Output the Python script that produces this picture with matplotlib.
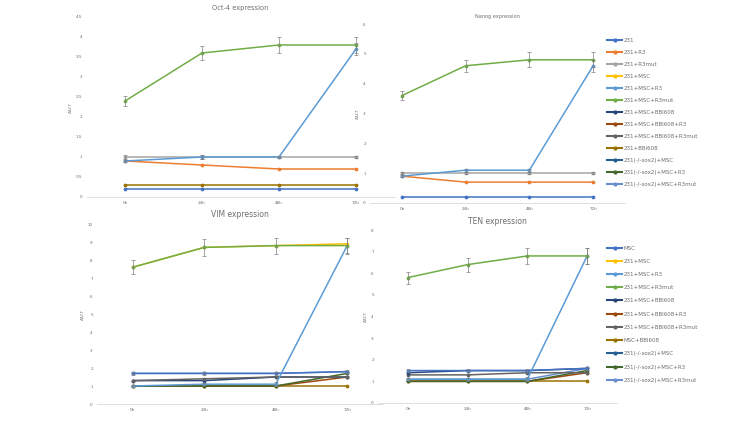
import matplotlib
matplotlib.use("Agg")
import matplotlib.pyplot as plt
from matplotlib.lines import Line2D

W, H = 750, 422
times = ["0h", "24h", "48h", "72h"]

# ---- series colours (Excel palette) ----
top_labels = ["231", "231+R3", "231+R3mut", "231+MSC", "231+MSC+R3", "231+MSC+R3mut",
              "231+MSC+BBI608", "231+MSC+BBI608+R3", "231+MSC+BBI608+R3mut", "231+BBI608",
              "231(-/-sox2)+MSC", "231(-/-sox2)+MSC+R3", "231(-/-sox2)+MSC+R3mut"]
top_colors = ["#4472C4", "#ED7D31", "#A5A5A5", "#FFC000", "#5B9BD5", "#70AD47",
              "#264478", "#9E480E", "#636363", "#997300", "#255E91", "#43682B", "#698ED0"]
bot_labels = ["MSC", "231+MSC", "231+MSC+R3", "231+MSC+R3mut", "231+MSC+BBI608",
              "231+MSC+BBI608+R3", "231+MSC+BBI608+R3mut", "MSC+BBI608",
              "231(-/-sox2)+MSC", "231(-/-sox2)+MSC+R3", "231(-/-sox2)+MSC+R3mut"]
bot_colors = ["#4472C4", "#FFC000", "#5B9BD5", "#70AD47", "#264478", "#9E480E",
              "#636363", "#997300", "#255E91", "#43682B", "#698ED0"]

# ---- Oct-4 ----
oct4_values = {
    "231": [0.2, 0.2, 0.2, 0.2],
    "231+BBI608": [0.3, 0.3, 0.3, 0.3],
    "231+R3": [0.9, 0.8, 0.7, 0.7],
    "231+R3mut": [1.0, 1.0, 1.0, 1.0],
    "231+MSC+R3": [0.9, 1.0, 1.0, 3.7],
    "231+MSC+R3mut": [2.4, 3.6, 3.8, 3.8],
}
oct4_err = {
    "231+R3mut": [0.05, 0.04, 0.03, 0.03],
    "231+MSC+R3": [0.03, 0.04, 0.03, 0.15],
    "231+MSC+R3mut": [0.13, 0.18, 0.2, 0.2],
}
# ---- Nanog ----
nanog_values = {
    "231": [0.2, 0.2, 0.2, 0.2],
    "231+R3": [0.9, 0.7, 0.7, 0.7],
    "231+R3mut": [1.0, 1.0, 1.0, 1.0],
    "231+MSC+R3": [0.9, 1.1, 1.1, 4.6],
    "231+MSC+R3mut": [3.6, 4.6, 4.8, 4.8],
}
nanog_err = {
    "231+R3mut": [0.04, 0.04, 0.04, 0.04],
    "231+MSC+R3": [0.03, 0.05, 0.05, 0.2],
    "231+MSC+R3mut": [0.15, 0.2, 0.25, 0.25],
}
# ---- VIM ----
vim_values = {
    "MSC+BBI608": [1.0, 1.0, 1.0, 1.0],
    "231+MSC+BBI608+R3": [1.0, 1.0, 1.0, 1.5],
    "231(-/-sox2)+MSC+R3": [1.0, 1.0, 1.0, 1.7],
    "231+MSC+BBI608": [1.3, 1.3, 1.5, 1.5],
    "231+MSC+BBI608+R3mut": [1.3, 1.4, 1.5, 1.5],
    "231(-/-sox2)+MSC+R3mut": [1.7, 1.7, 1.7, 1.8],
    "MSC": [1.7, 1.7, 1.7, 1.8],
    "231+MSC+R3": [1.0, 1.1, 1.1, 8.8],
    "231+MSC": [7.6, 8.7, 8.8, 8.9],
    "231+MSC+R3mut": [7.6, 8.7, 8.8, 8.8],
}
vim_err = {
    "MSC": [0.08, 0.08, 0.08, 0.08],
    "231+MSC+R3": [0.05, 0.05, 0.1, 0.4],
    "231+MSC+R3mut": [0.38, 0.45, 0.45, 0.45],
}
# ---- TEN ----
ten_values = {
    "MSC+BBI608": [1.0, 1.0, 1.0, 1.0],
    "231+MSC+BBI608+R3": [1.0, 1.0, 1.0, 1.4],
    "231(-/-sox2)+MSC+R3": [1.0, 1.0, 1.0, 1.5],
    "231(-/-sox2)+MSC+R3mut": [1.1, 1.1, 1.1, 1.6],
    "231+MSC+BBI608+R3mut": [1.3, 1.3, 1.4, 1.4],
    "231+MSC+BBI608": [1.4, 1.5, 1.5, 1.6],
    "MSC": [1.5, 1.5, 1.5, 1.6],
    "231+MSC+R3": [1.1, 1.1, 1.1, 6.8],
    "231+MSC+R3mut": [5.8, 6.4, 6.8, 6.8],
}
ten_err = {
    "MSC": [0.08, 0.08, 0.08, 0.08],
    "231+MSC+R3": [0.05, 0.05, 0.08, 0.35],
    "231+MSC+R3mut": [0.28, 0.32, 0.35, 0.35],
}

fig = plt.figure(figsize=(W / 100, H / 100), dpi=100)
fig.patch.set_facecolor("white")
TXT = "#6E6E6E"


def px_axes(left, right, top, bottom):
    ax = fig.add_axes([left / W, 1 - bottom / H, (right - left) / W, (bottom - top) / H])
    ax.patch.set_alpha(0)
    return ax


def panel(ax, values, errs, colors, labels, ymax, ystep, title, tfs, tpad, xlim):
    cmap = dict(zip(labels, colors))
    x = list(range(len(times)))
    for name, vals in values.items():
        c = cmap[name]
        ax.plot(x, vals, color=c, lw=1.1, marker="o", ms=1.7, zorder=3)
        if name in errs:
            ax.errorbar(x, vals, yerr=errs[name], fmt="none", ecolor="#7F7F7F",
                        elinewidth=0.5, capsize=1.2, capthick=0.5, zorder=4)
    ax.set_xlim(*xlim)
    ax.set_ylim(0, ymax)
    ticks = [i * ystep for i in range(int(round(ymax / ystep)) + 1)]
    ax.set_yticks(ticks)
    ax.set_yticklabels([("%g" % t) for t in ticks])
    ax.set_xticks(x)
    ax.set_xticklabels(times)
    for s in ["top", "right", "left"]:
        ax.spines[s].set_visible(False)
    ax.spines["bottom"].set_color("#D9D9D9")
    ax.spines["bottom"].set_linewidth(0.6)
    ax.tick_params(length=0, labelsize=3, colors=TXT, pad=3)
    ax.set_ylabel("ΔΔCT", fontsize=3, color=TXT, labelpad=2)
    ax.set_title(title, fontsize=tfs, color=TXT, pad=tpad)


ax1 = px_axes(86.5, 394.5, 17, 197)
panel(ax1, oct4_values, oct4_err, top_colors, top_labels, 4.5, 0.5,
      "Oct-4 expression", 4.8, 5.2, (-0.5, 3.5))
ax2 = px_axes(370, 625, 24, 203)
panel(ax2, nanog_values, nanog_err, top_colors, top_labels, 6, 1,
      "Nanog expression", 3.6, 4.5, (-0.5, 3.5))
ax3 = px_axes(97, 383, 224, 404)
panel(ax3, vim_values, vim_err, bot_colors, bot_labels, 10, 1,
      "VIM expression", 5.5, 4.8, (-0.5, 3.5))
ax4 = px_axes(378, 617, 230, 403)
panel(ax4, ten_values, ten_err, bot_colors, bot_labels, 8, 1,
      "TEN expression", 5.5, 4, (-0.5, 3.5))


def make_legend(labels, colors, top_px, spacing):
    handles = [Line2D([0], [0], color=c, lw=1.5, marker="o", ms=2.0) for c in colors]
    leg = fig.legend(handles, labels, loc="upper left",
                     bbox_to_anchor=(607 / W, 1 - top_px / H), frameon=False,
                     fontsize=4, handlelength=2.7, handletextpad=0.3,
                     labelspacing=spacing, borderpad=0, borderaxespad=0)
    for t in leg.get_texts():
        t.set_color(TXT)
    return leg


make_legend(top_labels, top_colors, 37.5, 1.27)
make_legend(bot_labels, bot_colors, 245.5, 1.48)

fig.savefig("out.png", dpi=100, facecolor="white")
